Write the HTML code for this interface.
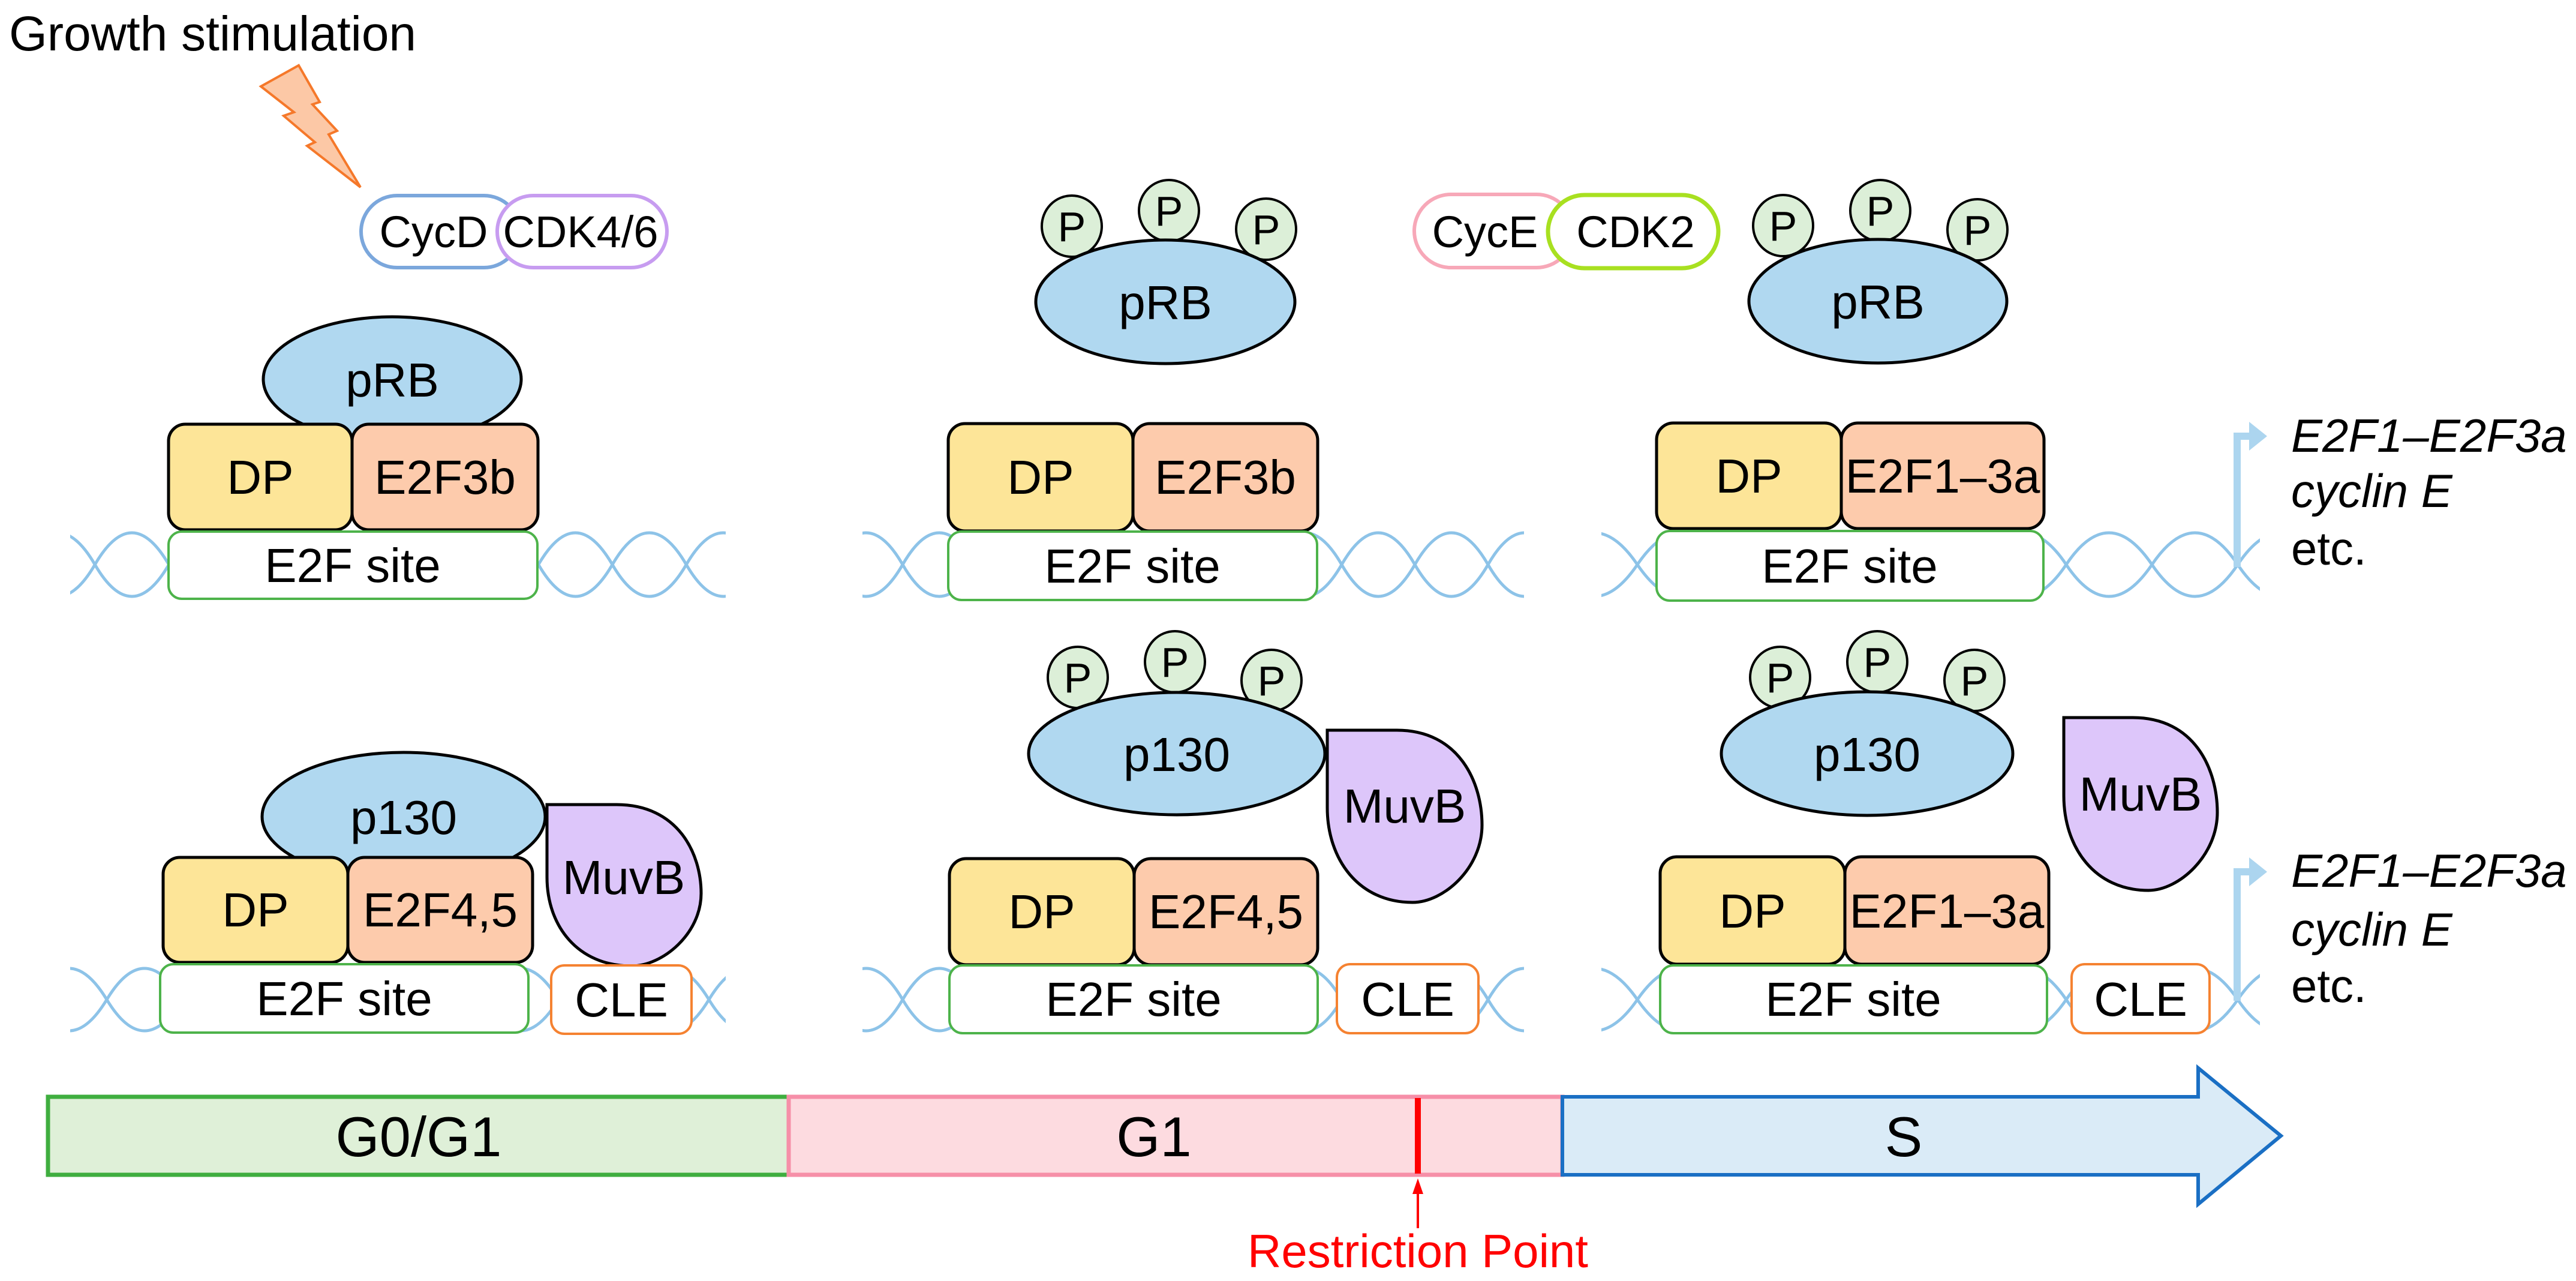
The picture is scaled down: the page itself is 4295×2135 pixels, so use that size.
<!DOCTYPE html>
<html><head><meta charset="utf-8"><style>
html,body{margin:0;padding:0;background:#fff}
svg{display:block}
text{font-family:"Liberation Sans",Arial,sans-serif;fill:#000}
</style></head><body>
<svg width="4295" height="2135" viewBox="0 0 4295 2135" xmlns="http://www.w3.org/2000/svg">
<defs>
<clipPath id="cL"><rect x="117" y="0" width="1093" height="2135"/></clipPath>
<clipPath id="cM"><rect x="1438" y="0" width="1103" height="2135"/></clipPath>
<clipPath id="cR"><rect x="2670" y="0" width="1098" height="2135"/></clipPath>
</defs>

<g fill="none" stroke="#8dc3e8" stroke-width="5">
<g clip-path="url(#cL)">
<path d="M35 941 Q96.6 835 158.25 941 T281.5 941 T404.75 941 T528 941 T651.25 941 T774.5 941 T897.75 941 T1021 941 T1144.25 941 T1267.5 941"/>
<path d="M35 941 Q96.6 1047 158.25 941 T281.5 941 T404.75 941 T528 941 T651.25 941 T774.5 941 T897.75 941 T1021 941 T1144.25 941 T1267.5 941"/>
<path d="M52.5 1666 Q115 1562 178 1666 T303.5 1666 T429 1666 T554.5 1666 T680 1666 T805.5 1666 T931 1666 T1056.5 1666 T1182 1666 T1307.5 1666"/>
<path d="M52.5 1666 Q115 1770 178 1666 T303.5 1666 T429 1666 T554.5 1666 T680 1666 T805.5 1666 T931 1666 T1056.5 1666 T1182 1666 T1307.5 1666"/>
</g>
<g clip-path="url(#cM)">
<path d="M1383 941 Q1444 835 1505 941 T1627 941 T1749 941 T1871 941 T1993 941 T2115 941 T2237 941 T2359 941 T2481 941 T2603 941"/>
<path d="M1383 941 Q1444 1047 1505 941 T1627 941 T1749 941 T1871 941 T1993 941 T2115 941 T2237 941 T2359 941 T2481 941 T2603 941"/>
<path d="M1383 1666 Q1444 1562 1505 1666 T1627 1666 T1749 1666 T1871 1666 T1993 1666 T2115 1666 T2237 1666 T2359 1666 T2481 1666 T2603 1666"/>
<path d="M1383 1666 Q1444 1770 1505 1666 T1627 1666 T1749 1666 T1871 1666 T1993 1666 T2115 1666 T2237 1666 T2359 1666 T2481 1666 T2603 1666"/>
</g>
<g clip-path="url(#cR)">
<path d="M2587 941 Q2658 835 2730 941 T2873 941 T3016 941 T3159 941 T3302 941 T3445 941 T3588 941 T3731 941 T3874 941"/>
<path d="M2587 941 Q2658 1047 2730 941 T2873 941 T3016 941 T3159 941 T3302 941 T3445 941 T3588 941 T3731 941 T3874 941"/>
<path d="M2587 1666 Q2658 1562 2730 1666 T2873 1666 T3016 1666 T3159 1666 T3302 1666 T3445 1666 T3588 1666 T3731 1666 T3874 1666"/>
<path d="M2587 1666 Q2658 1770 2730 1666 T2873 1666 T3016 1666 T3159 1666 T3302 1666 T3445 1666 T3588 1666 T3731 1666 T3874 1666"/>
</g>
</g>

<text x="15" y="84" font-size="82">Growth stimulation</text>
<polygon points="435,144 498,109 533,170 521,174 562,218 548,224 601,312 512,243 525,237 473,193 490,187" fill="#fcc8a6" stroke="#f5782a" stroke-width="4"/>

<rect x="602" y="326" width="265" height="120" rx="60" fill="#fff" stroke="#7ba7dc" stroke-width="6"/>
<rect x="829" y="326" width="283" height="120" rx="60" fill="#fff" stroke="#c79cf0" stroke-width="6"/>
<text x="723" y="412" font-size="74" text-anchor="middle">CycD</text>
<text x="968" y="412" font-size="74" text-anchor="middle">CDK4/6</text>
<rect x="2358" y="324" width="265" height="122" rx="61" fill="#fff" stroke="#f7a8b8" stroke-width="6"/>
<rect x="2581" y="325" width="284" height="122" rx="61" fill="#fff" stroke="#a8e020" stroke-width="7"/>
<text x="2476" y="412" font-size="74" text-anchor="middle">CycE</text>
<text x="2727" y="412" font-size="74" text-anchor="middle">CDK2</text>

<g stroke="#000" stroke-width="5">
<ellipse cx="654" cy="632" rx="215" ry="104" fill="#b0d8f0"/>
<rect x="281" y="707" width="306" height="176" rx="28" fill="#fde598"/>
<rect x="587" y="707" width="310" height="176" rx="28" fill="#fdcbac"/>
<ellipse cx="673" cy="1361" rx="236" ry="107" fill="#b0d8f0"/>
<path d="M912 1341 H1028 C1130 1341 1169 1422 1169 1489 C1169 1556 1105 1610 1053 1610 C963 1610 912 1543 912 1462 Z" fill="#ddc6fa"/>
<rect x="272" y="1429" width="308" height="175" rx="28" fill="#fde598"/>
<rect x="580" y="1429" width="308" height="175" rx="28" fill="#fdcbac"/>
<g fill="#dcefd8" stroke-width="4">
<ellipse cx="1787" cy="377" rx="50" ry="51"/><ellipse cx="1949" cy="351" rx="50" ry="51"/><ellipse cx="2111" cy="382" rx="50" ry="51"/>
<ellipse cx="1797" cy="1129" rx="50" ry="51"/><ellipse cx="1959" cy="1103" rx="50" ry="51"/><ellipse cx="2120" cy="1134" rx="50" ry="51"/>
<ellipse cx="2973" cy="376" rx="50" ry="51"/><ellipse cx="3135" cy="351" rx="50" ry="51"/><ellipse cx="3297" cy="383" rx="50" ry="51"/>
<ellipse cx="2968" cy="1129" rx="50" ry="51"/><ellipse cx="3130" cy="1103" rx="50" ry="51"/><ellipse cx="3292" cy="1134" rx="50" ry="51"/>
</g>
<ellipse cx="1943" cy="503" rx="216" ry="103" fill="#b0d8f0"/>
<rect x="1581" y="706" width="308" height="179" rx="28" fill="#fde598"/>
<rect x="1889" y="706" width="308" height="179" rx="28" fill="#fdcbac"/>
<ellipse cx="1962" cy="1256" rx="247" ry="102" fill="#b0d8f0"/>
<path d="M2213 1217 H2329 C2432 1217 2471 1303 2471 1375 C2471 1447 2407 1504 2355 1504 C2265 1504 2213 1432 2213 1346 Z" fill="#ddc6fa"/>
<rect x="1583" y="1431" width="308" height="177" rx="28" fill="#fde598"/>
<rect x="1891" y="1431" width="306" height="177" rx="28" fill="#fdcbac"/>
<ellipse cx="3131" cy="502" rx="215" ry="103" fill="#b0d8f0"/>
<rect x="2762" y="705" width="308" height="176" rx="28" fill="#fde598"/>
<rect x="3070" y="705" width="338" height="176" rx="28" fill="#fdcbac"/>
<ellipse cx="3113" cy="1256" rx="243" ry="103" fill="#b0d8f0"/>
<path d="M3441 1196 H3556 C3659 1196 3697 1282 3697 1354 C3697 1426 3633 1484 3582 1484 C3492 1484 3441 1412 3441 1326 Z" fill="#ddc6fa"/>
<rect x="2768" y="1428" width="308" height="179" rx="28" fill="#fde598"/>
<rect x="3076" y="1428" width="340" height="179" rx="28" fill="#fdcbac"/>
</g>

<g fill="#fff" stroke-width="4">
<rect x="281" y="886" width="615" height="112" rx="22" stroke="#4db34a"/>
<rect x="267" y="1607" width="614" height="114" rx="22" stroke="#4db34a"/>
<rect x="919" y="1609" width="234" height="114" rx="22" stroke="#f58231"/>
<rect x="1581" y="886" width="615" height="114" rx="22" stroke="#4db34a"/>
<rect x="1583" y="1609" width="614" height="113" rx="22" stroke="#4db34a"/>
<rect x="2229" y="1607" width="236" height="115" rx="22" stroke="#f58231"/>
<rect x="2762" y="885" width="645" height="116" rx="22" stroke="#4db34a"/>
<rect x="2768" y="1609" width="645" height="113" rx="22" stroke="#4db34a"/>
<rect x="3454" y="1607" width="230" height="115" rx="22" stroke="#f58231"/>
</g>

<g font-size="80" text-anchor="middle">
<text x="654" y="661">pRB</text>
<text x="434" y="823">DP</text><text x="742" y="823">E2F3b</text>
<text x="588" y="970">E2F site</text>
<text x="673" y="1390">p130</text>
<text x="1040" y="1490">MuvB</text>
<text x="426" y="1544">DP</text><text x="734" y="1544">E2F4,5</text>
<text x="574" y="1692">E2F site</text><text x="1036" y="1694">CLE</text>

<text x="1943" y="532">pRB</text>
<text x="1735" y="823">DP</text><text x="2043" y="823">E2F3b</text>
<text x="1888" y="971">E2F site</text>
<text x="1962" y="1285">p130</text>
<text x="2342" y="1371">MuvB</text>
<text x="1737" y="1547">DP</text><text x="2044" y="1547">E2F4,5</text>
<text x="1890" y="1693">E2F site</text><text x="2347" y="1693">CLE</text>

<text x="3131" y="531">pRB</text>
<text x="2916" y="821">DP</text><text x="3239" y="821">E2F1–3a</text>
<text x="3084" y="971">E2F site</text>
<text x="3113" y="1285">p130</text>
<text x="3569" y="1351">MuvB</text>
<text x="2922" y="1546">DP</text><text x="3246" y="1546">E2F1–3a</text>
<text x="3090" y="1693">E2F site</text><text x="3569" y="1693">CLE</text>
</g>
<g font-size="70" text-anchor="middle">
<text x="1787" y="402">P</text><text x="1949" y="376">P</text><text x="2111" y="407">P</text>
<text x="1797" y="1154">P</text><text x="1959" y="1128">P</text><text x="2120" y="1159">P</text>
<text x="2973" y="401">P</text><text x="3135" y="376">P</text><text x="3297" y="408">P</text>
<text x="2968" y="1154">P</text><text x="3130" y="1128">P</text><text x="3292" y="1159">P</text>
</g>

<g fill="none" stroke="#acd5ef" stroke-width="12">
<polyline points="3730,945 3730,727 3756,727"/>
<polyline points="3730,1668 3730,1453 3756,1453"/>
</g>
<polygon points="3750,703 3780,727 3750,751" fill="#acd5ef"/>
<polygon points="3750,1429 3780,1453 3750,1477" fill="#acd5ef"/>
<g font-size="78" font-style="italic">
<text x="3820" y="753">E2F1–E2F3a</text>
<text x="3820" y="845">cyclin E</text>
<text x="3820" y="1478">E2F1–E2F3a</text>
<text x="3820" y="1576">cyclin E</text>
</g>
<g font-size="78">
<text x="3820" y="941">etc.</text>
<text x="3820" y="1670">etc.</text>
</g>

<rect x="80" y="1828" width="1235" height="130" fill="#dff0d8" stroke="#3fae3f" stroke-width="7"/>
<rect x="1315" y="1828" width="1290" height="130" fill="#fddbe0" stroke="#f68fa8" stroke-width="7"/>
<polygon points="2605,1828 3665,1828 3665,1780 3803,1893 3665,2007 3665,1958 2605,1958" fill="#daebf7" stroke="#1a6fc4" stroke-width="6"/>
<line x1="2364" y1="1830" x2="2364" y2="1956" stroke="#ff0000" stroke-width="10"/>
<line x1="2364" y1="2047" x2="2364" y2="1985" stroke="#ff0000" stroke-width="4"/>
<polygon points="2364,1964 2355,1990 2373,1990" fill="#ff0000"/>
<g font-size="94" text-anchor="middle">
<text x="698" y="1927">G0/G1</text>
<text x="1924" y="1927">G1</text>
<text x="3174" y="1927">S</text>
</g>
<text x="2364" y="2112" font-size="78" text-anchor="middle" style="fill:#ff0000">Restriction Point</text>
</svg>
</body></html>
